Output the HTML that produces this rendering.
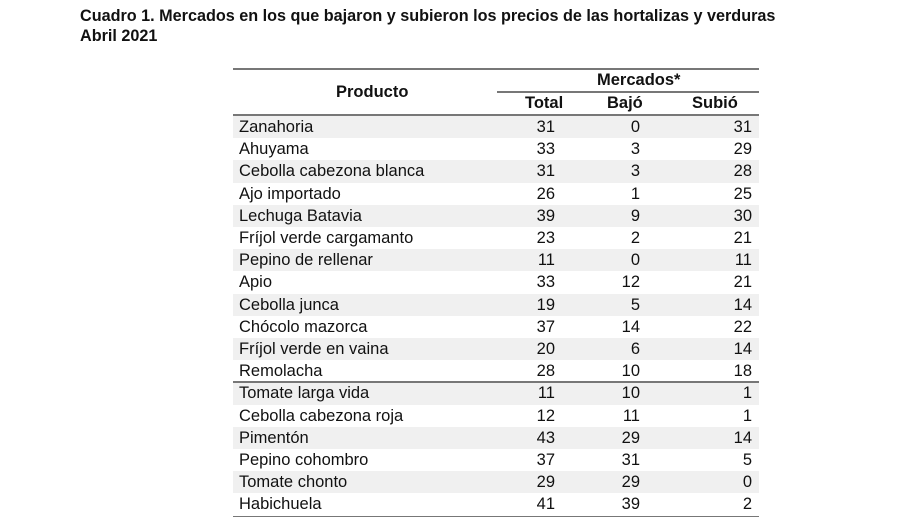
<!DOCTYPE html>
<html><head><style>
body{margin:0;width:909px;height:520px;background:#fff;font-family:"Liberation Sans",sans-serif;color:#111;position:relative;overflow:hidden}
.t{position:absolute;left:80px;top:6px;font-weight:bold;font-size:16.2px;line-height:20px}
.h{position:absolute;font-weight:bold;font-size:16.5px}
.ln{position:absolute;height:2px;background:#777}
.r{position:absolute;left:233px;width:526px;height:22.2px;font-size:16.5px;line-height:22px}
.r span{position:absolute}
.g{background:#f0f0f0}
</style></head><body>
<div class="t">Cuadro 1. Mercados en los que bajaron y subieron los precios de las hortalizas y verduras<br>Abril 2021</div>
<div class="ln" style="left:233px;top:68px;width:526px"></div>
<div class="h" style="left:336px;top:83px">Producto</div>
<div class="h" style="left:597px;top:71px">Mercados*</div>
<div class="ln" style="left:497px;top:91px;width:262px;height:1.5px"></div>
<div class="h" style="left:525px;top:94px">Total</div>
<div class="h" style="left:607px;top:94px">Bajó</div>
<div class="h" style="left:692px;top:94px">Subió</div>
<div class="ln" style="left:233px;top:114px;width:526px;height:1.5px"></div>
<div id="rows"></div>
<script>
var d=[["Zanahoria",31,0,31],["Ahuyama",33,3,29],["Cebolla cabezona blanca",31,3,28],["Ajo importado",26,1,25],["Lechuga Batavia",39,9,30],["Fríjol verde cargamanto",23,2,21],["Pepino de rellenar",11,0,11],["Apio",33,12,21],["Cebolla junca",19,5,14],["Chócolo mazorca",37,14,22],["Fríjol verde en vaina",20,6,14],["Remolacha",28,10,18],["Tomate larga vida",11,10,1],["Cebolla cabezona roja",12,11,1],["Pimentón",43,29,14],["Pepino cohombro",37,31,5],["Tomate chonto",29,29,0],["Habichuela",41,39,2]];
var h="";d.forEach(function(r,i){var y=116+i*22.2;h+='<div class="r'+(i%2?'':' g')+'" style="top:'+y+'px"><span style="left:6px">'+r[0]+'</span><span style="right:204px">'+r[1]+'</span><span style="right:119px">'+r[2]+'</span><span style="right:7px">'+r[3]+'</span></div>';});
h+='<div class="ln" style="left:233px;top:381px;width:526px;height:1.5px"></div><div class="ln" style="left:233px;top:515.5px;width:526px;height:1.5px"></div>';
document.getElementById("rows").innerHTML=h;
</script>
</body></html>
